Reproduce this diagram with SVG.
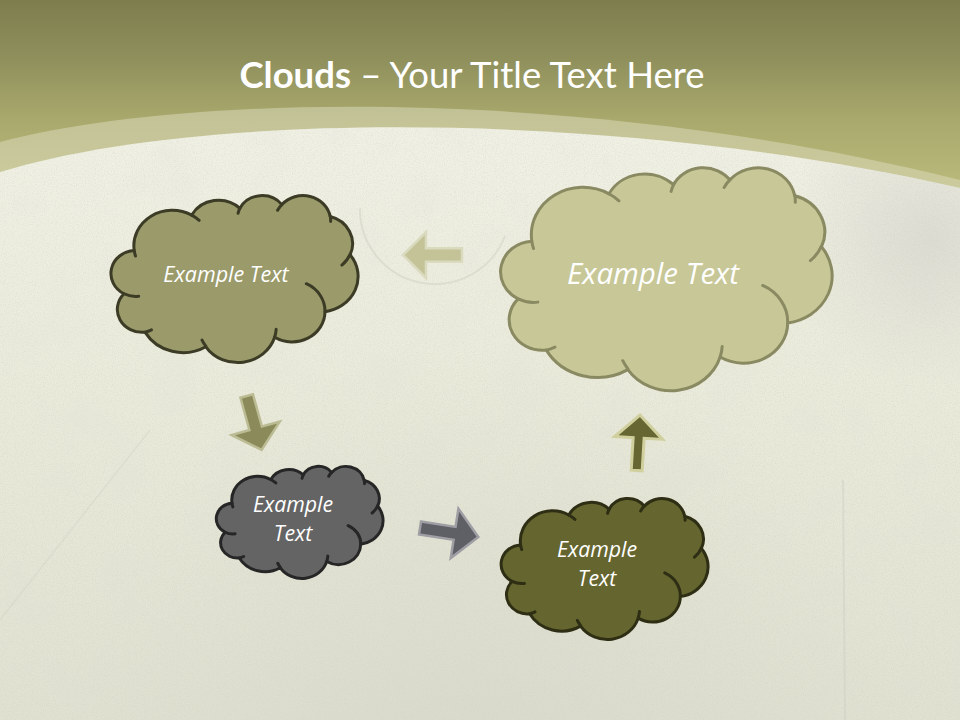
<svg xmlns="http://www.w3.org/2000/svg" xmlns:xlink="http://www.w3.org/1999/xlink" width="960" height="720" viewBox="0 0 960 720">
  <defs>
    <linearGradient id="olive" x1="0" y1="0" x2="0" y2="200" gradientUnits="userSpaceOnUse">
      <stop offset="0" stop-color="#7D7D4E"/>
      <stop offset="0.3" stop-color="#90905D"/>
      <stop offset="0.6" stop-color="#A9A96D"/>
      <stop offset="1" stop-color="#BDBD7E"/>
    </linearGradient>
    <linearGradient id="paper" x1="0" y1="110" x2="0" y2="720" gradientUnits="userSpaceOnUse">
      <stop offset="0" stop-color="#F1F1E5"/>
      <stop offset="0.45" stop-color="#EBEBDB"/>
      <stop offset="1" stop-color="#E1E1D1"/>
    </linearGradient>
    <radialGradient id="patchR" cx="930" cy="240" r="150" gradientUnits="userSpaceOnUse">
      <stop offset="0" stop-color="#CACAC4" stop-opacity="0.5"/>
      <stop offset="1" stop-color="#CACAC4" stop-opacity="0"/>
    </radialGradient>
    <radialGradient id="patchB" cx="480" cy="760" r="420" gradientUnits="userSpaceOnUse">
      <stop offset="0" stop-color="#D2D2C6" stop-opacity="0.5"/>
      <stop offset="1" stop-color="#D2D2C6" stop-opacity="0"/>
    </radialGradient>
    <filter id="grain" x="0" y="0" width="100%" height="100%">
      <feTurbulence type="fractalNoise" baseFrequency="0.9" numOctaves="2" seed="4" result="n"/>
      <feColorMatrix in="n" type="matrix" values="0 0 0 0 0.6  0 0 0 0 0.6  0 0 0 0 0.55  1.8 0 0 0 -0.78" result="g"/>
      <feTurbulence type="fractalNoise" baseFrequency="0.02" numOctaves="3" seed="9" result="b"/>
      <feColorMatrix in="b" type="matrix" values="0 0 0 0 0.7  0 0 0 0 0.7  0 0 0 0 0.68  1.0 0 0 0 -0.5" result="bl"/>
      <feMerge result="m"><feMergeNode in="bl"/><feMergeNode in="g"/></feMerge>
      <feComposite in="m" in2="SourceGraphic" operator="in"/>
    </filter>
    <g id="cloudShape">
      <path vector-effect="non-scaling-stroke" d="M9.03,33.26 A15.63,21.27 0 0 1 32.42,12.04 A12.345,16.822 0 0 1 51.98,7.95 A10.104,13.762 0 0 1 69.06,5.75 A11.243,15.266 0 0 1 88.70,12.91 A12.345,16.836 0 0 1 96.80,35.79 A15.683,21.343 0 0 1 86.58,69.91 A13.391,18.211 0 0 1 66.10,85.21 A15.63,21.331 0 0 1 38.15,90.89 A17.870,24.405 0 0 1 13.43,82.11 A10.093,13.699 0 0 1 4.89,59.14 A10.058,13.762 0 0 1 9.03,33.26 Z"/>
      <path vector-effect="non-scaling-stroke" fill="none" d="M32.41,12.02 A15.63,21.27 0 0 1 35.43,15.16 M51.25,10.93 A10.104,13.762 0 0 1 51.98,7.95 M67.31,9.15 A11.243,15.266 0 0 1 69.06,5.75 M88.71,12.56 A11.243,15.266 0 0 1 88.88,15.84 M96.75,35.54 A12.345,16.836 0 0 1 93.45,41.98 M79.00,53.13 A13.391,18.211 0 0 1 86.58,69.91 M66.73,80.44 A15.63,21.331 0 0 1 66.10,85.21 M38.14,90.49 A15.63,21.331 0 0 1 36.60,86.86 M16.04,80.78 A10.093,13.699 0 0 1 13.43,82.11 M10.86,60.59 A10.058,13.762 0 0 1 4.89,59.14 M9.55,36.55 A15.63,21.27 0 0 1 9.03,33.26"/>
    </g>
    <style>
      .cloud { stroke-width: 3; stroke-linejoin: round; stroke-linecap: round; }
      .label { font-family: "Open Sans", Lato, "DejaVu Sans", sans-serif; font-style: italic; fill: #FFFFFF; text-anchor: middle; }
      .title { font-family: Lato, "Open Sans", "DejaVu Sans", sans-serif; fill: #FFFFFF; text-anchor: middle; }
      .arrow { stroke-linejoin: miter; }
    </style>
  </defs>

  <!-- background -->
  <rect x="0" y="0" width="960" height="720" fill="url(#olive)"/>
  <path d="M0,142 C200,90 600,90 960,180 V720 H0 Z" fill="#D8D8BA" fill-opacity="0.55"/>
  <path d="M0,172 C200,110 620,110 960,188 V720 H0 Z" fill="url(#paper)"/>
  <path d="M0,172 C200,110 620,110 960,188 V720 H0 Z" fill="url(#patchR)"/>
  <path d="M0,172 C200,110 620,110 960,188 V720 H0 Z" fill="url(#patchB)"/>
  <path d="M0,172 C200,110 620,110 960,188 V720 H0 Z" fill="#FFFFFF" filter="url(#grain)" opacity="0.45"/>
  <path d="M360,208 A75,75 0 0 0 505,236" fill="none" stroke="#CBCBBC" stroke-width="2" opacity="0.4"/>
  <line x1="843" y1="480" x2="845" y2="720" stroke="#CDCDC2" stroke-width="2" opacity="0.45"/>
  <line x1="150" y1="430" x2="0" y2="620" stroke="#CDCDC2" stroke-width="1.5" opacity="0.35"/>

  <!-- title -->
  <text class="title" x="472" y="88" font-size="36.5"><tspan font-weight="bold">Clouds</tspan> – Your Title Text Here</text>

  <!-- connectors -->
  <g id="connectors">
    <polygon class="arrow" transform="translate(462,255) rotate(180)" points="0,-6.7 36,-6.7 36,-23 59,0 36,23 36,6.7 0,6.7" fill="#C3C397" stroke="#DADABE" stroke-width="2.5"/>
    <polygon class="arrow" transform="translate(246.7,396) rotate(74.5)" points="0,-6.5 33.5,-6.5 33.5,-25 56,0 33.5,25 33.5,6.5 0,6.5" fill="#8A8A5A" stroke="#BCBC94" stroke-width="2.5"/>
    <polygon class="arrow" transform="translate(420,528) rotate(8.8)" points="0,-6.5 35,-6.5 35,-25 59,0 35,25 35,6.5 0,6.5" fill="#5F5F66" stroke="#9E9EA4" stroke-width="2.5"/>
    <polygon class="arrow" transform="translate(636.7,470.5) rotate(-86.6)" points="0,-5.5 32.6,-5.5 32.6,-24 55.6,0 32.6,24 32.6,5.5 0,5.5" fill="#666633" stroke="#D0D09E" stroke-width="3"/>
  </g>

  <!-- nodes -->
  <g id="node-cloud-1">
    <use xlink:href="#cloudShape" href="#cloudShape" class="cloud" transform="translate(112,195) scale(2.46,1.67)" fill="#9A9A6A" stroke="#3C3C26"/>
    <text class="label" x="226" y="282" font-size="21.5">Example Text</text>
  </g>
  <g id="node-cloud-2">
    <use xlink:href="#cloudShape" href="#cloudShape" class="cloud" transform="translate(502,167) scale(3.3,2.23)" fill="#C7C797" stroke="#8A8A62"/>
    <text class="label" x="653" y="284" font-size="29.5">Example Text</text>
  </g>
  <g id="node-cloud-3">
    <use xlink:href="#cloudShape" href="#cloudShape" class="cloud" transform="translate(217,466) scale(1.66,1.12)" fill="#646464" stroke="#262626"/>
    <text class="label" x="293" y="512" font-size="21.3">Example</text>
    <text class="label" x="293" y="541" font-size="21.3">Text</text>
  </g>
  <g id="node-cloud-4">
    <use xlink:href="#cloudShape" href="#cloudShape" class="cloud" transform="translate(502,498) scale(2.06,1.41)" fill="#65652F" stroke="#2E2E14"/>
    <text class="label" x="597" y="557" font-size="21.3">Example</text>
    <text class="label" x="597" y="586" font-size="21.3">Text</text>
  </g>
</svg>
